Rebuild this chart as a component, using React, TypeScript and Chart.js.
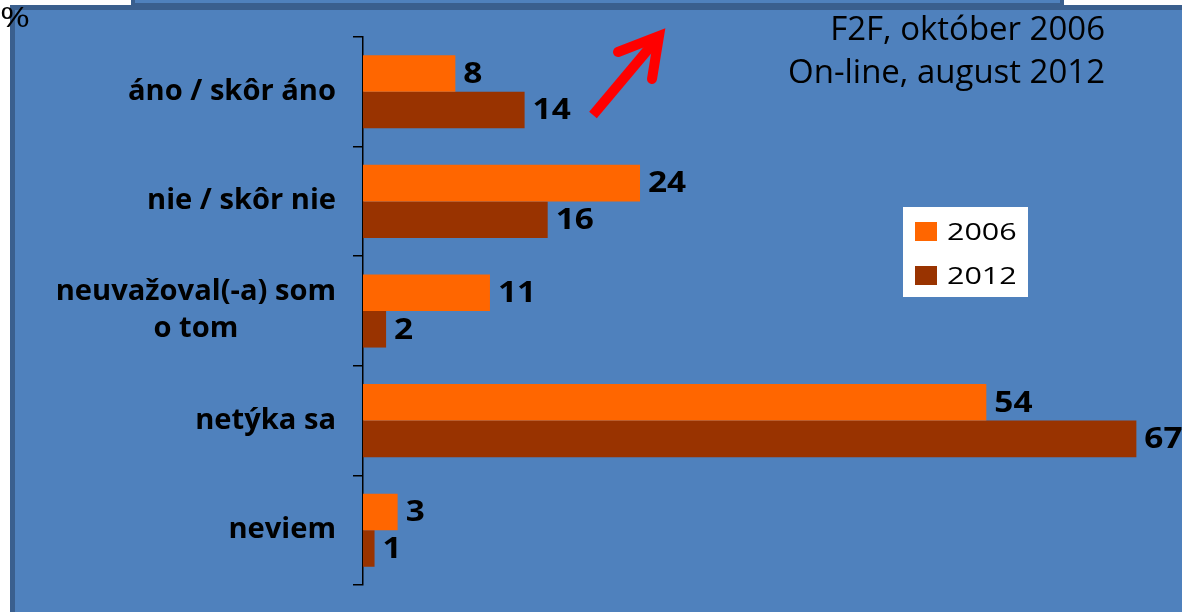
import { useEffect, useRef } from 'react';
import { Chart, registerables } from 'chart.js';

Chart.register(...registerables);

// ---- data ----
const categoryLines: string[][] = [
  ['áno / skôr áno'],
  ['nie / skôr nie'],
  ['neuvažoval(-a) som', 'o tom'],
  ['netýka sa'],
  ['neviem'],
];
const seriesNames = ['2006', '2012'];
const values2006 = [8, 24, 11, 54, 3];
const values2012 = [14, 16, 2, 67, 1];
const infoLines = ['F2F, október 2006', 'On-line, august 2012'];
const unitLabel = '%';
const xMin = 0;
const xMax = 70;

// ---- styles ----
const COLORS = ['#FF6600', '#993300'];
const BLUE = '#4F81BD';
const DARK = '#3A5F8E';
const FONT = '"Open Sans", "DejaVu Sans", sans-serif';

function drawText(
  ctx: CanvasRenderingContext2D,
  text: string,
  x: number,
  y: number,
  font: string,
  align: 'left' | 'right' | 'center',
  sx: number,
  color = '#000'
) {
  ctx.save();
  ctx.font = font;
  ctx.fillStyle = color;
  ctx.textBaseline = 'middle';
  ctx.textAlign = 'left';
  const w = ctx.measureText(text).width * sx;
  const left = align === 'left' ? x : align === 'right' ? x - w : x - w / 2;
  ctx.translate(left, y);
  ctx.scale(sx, 1);
  ctx.fillText(text, 0, 0);
  ctx.restore();
}

const backgroundPlugin = {
  id: 'bgDecor',
  beforeDraw(chart: any) {
    const { ctx, width, height } = chart;
    ctx.save();
    ctx.fillStyle = '#ffffff';
    ctx.fillRect(0, 0, width, height);
    ctx.fillStyle = DARK;
    ctx.fillRect(10, 5, width - 10, height - 5);
    ctx.fillStyle = BLUE;
    ctx.fillRect(15, 10, width - 15, height - 10);
    // top box remnant
    ctx.fillStyle = DARK;
    ctx.fillRect(131, 0, 933, 6);
    ctx.fillStyle = BLUE;
    ctx.fillRect(135, 0, 925, 3);
    ctx.restore();
  },
};

const overlayPlugin = {
  id: 'overlay',
  afterDraw(chart: any) {
    const { ctx } = chart;
    const yScale = chart.scales.y;
    const area = chart.chartArea;

    // category labels (right-aligned blocks, lines centered within block)
    const catFont = `bold 28px ${FONT}`;
    const catSx = 1.04;
    const blockRight = area.left - 27;
    categoryLines.forEach((lines, i) => {
      const cy = yScale.getPixelForValue(i);
      ctx.save();
      ctx.font = catFont;
      const widest = Math.max(...lines.map((l) => ctx.measureText(l).width)) * catSx;
      ctx.restore();
      const lh = 37;
      lines.forEach((line, j) => {
        const y = cy + (j - (lines.length - 1) / 2) * lh;
        drawText(ctx, line, blockRight - widest / 2, y, catFont, 'center', catSx);
      });
    });

    // data labels
    chart.data.datasets.forEach((ds: any, di: number) => {
      const meta = chart.getDatasetMeta(di);
      meta.data.forEach((bar: any, i: number) => {
        drawText(ctx, String(ds.data[i]), bar.x + 8, bar.y + 1, `bold 29px ${FONT}`, 'left', 1.15);
      });
    });

    // info text
    drawText(ctx, infoLines[0], 1105, 31, `normal 32px ${FONT}`, 'right', 1.03);
    drawText(ctx, infoLines[1], 1105, 74, `normal 32px ${FONT}`, 'right', 1.03);

    // legend box
    ctx.save();
    ctx.fillStyle = '#ffffff';
    ctx.fillRect(903, 207, 125, 90);
    seriesNames.forEach((name, k) => {
      const y0 = 222 + k * 44;
      ctx.fillStyle = COLORS[k];
      ctx.fillRect(915, y0, 22, 19);
      drawText(ctx, name, 947, y0 + 11, `normal 24px ${FONT}`, 'left', 1.27);
    });
    ctx.restore();

    // red arrow
    ctx.save();
    ctx.strokeStyle = '#FF0000';
    ctx.lineWidth = 10;
    ctx.lineCap = 'butt';
    ctx.beginPath();
    ctx.moveTo(593, 115);
    ctx.lineTo(656, 40);
    ctx.stroke();
    ctx.lineCap = 'round';
    ctx.lineJoin = 'miter';
    ctx.beginPath();
    ctx.moveTo(618, 52);
    ctx.lineTo(659, 36);
    ctx.lineTo(652, 79);
    ctx.stroke();
    ctx.restore();

    // unit label
    drawText(ctx, unitLabel, 0, 19, `normal 28px ${FONT}`, 'left', 1.3);
  },
};

export default function App() {
  const ref = useRef<HTMLCanvasElement | null>(null);

  useEffect(() => {
    document.body.style.margin = '0';
    const canvas = ref.current;
    if (!canvas) return;
    const chart = new Chart(canvas, {
      type: 'bar',
      data: {
        labels: categoryLines.map((l) => l.join(' ')),
        datasets: [
          {
            label: seriesNames[0],
            data: values2006,
            backgroundColor: COLORS[0],
            barPercentage: 1,
            categoryPercentage: 0.667,
          },
          {
            label: seriesNames[1],
            data: values2012,
            backgroundColor: COLORS[1],
            barPercentage: 1,
            categoryPercentage: 0.667,
          },
        ],
      },
      options: {
        indexAxis: 'y',
        responsive: false,
        animation: false,
        devicePixelRatio: 1,
        layout: { padding: { left: 353, top: 37, right: 11, bottom: 27 } },
        plugins: {
          legend: { display: false },
          tooltip: { enabled: false },
          title: { display: false },
        },
        scales: {
          x: { type: 'linear', min: xMin, max: xMax, display: false },
          y: {
            type: 'category',
            offset: true,
            afterFit: (s: any) => {
              s.width = 10;
            },
            ticks: { display: false },
            grid: {
              display: true,
              offset: true,
              drawOnChartArea: false,
              drawTicks: true,
              tickLength: 10,
              color: '#000000',
              lineWidth: 1.5,
            },
            border: { display: true, color: '#000000', width: 1.5 },
          },
        },
      },
      plugins: [backgroundPlugin, overlayPlugin],
    });
    return () => chart.destroy();
  }, []);

  return <canvas ref={ref} width={1182} height={612} style={{ display: 'block' }} />;
}
